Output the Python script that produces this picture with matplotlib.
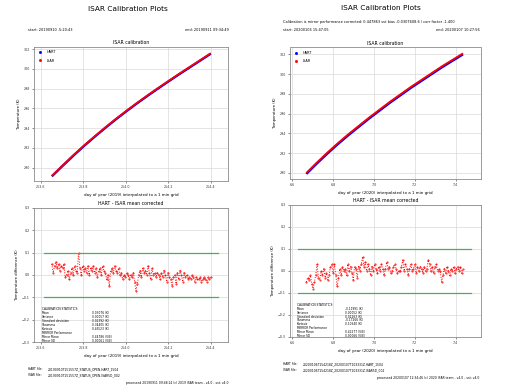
import numpy as np
import matplotlib
matplotlib.use('Agg')
import matplotlib.pyplot as plt

# ---- left run (2019) ----
l_start, l_end = 253.652, 254.400
l_isar = [289.15, 290.2, 291.22, 292.2, 293.13, 294.03, 294.9, 295.73,
          296.53, 297.3, 298.05, 298.78, 299.5, 300.2, 300.9, 301.6]
l_hart = [289.1, 290.15, 291.17, 292.15, 293.08, 293.98, 294.85, 295.68,
          296.48, 297.25, 298.0, 298.73, 299.45, 300.15, 300.85, 301.55]
l_diff = [0.05, 0.01, 0.04, 0.06, 0.03, 0.05, 0.02, 0.04, 0.03, 0.05,
          -0.01, 0.0, 0.02, -0.02, 0.01, 0.03, 0.00, 0.04, 0.02, 0.01,
          0.10, 0.03, 0.0, 0.04, 0.02, 0.03, 0.01, 0.04, 0.0, 0.03,
          0.02, 0.04, 0.01, 0.03, -0.01, 0.02, 0.03, 0.0, 0.04, 0.02,
          0.01, -0.02, 0.0, -0.05, 0.02, 0.03, 0.01, 0.04, 0.02, 0.01,
          0.03, 0.00, 0.01, -0.02, 0.0, -0.01, 0.01, 0.0, -0.02, 0.0,
          -0.01, 0.01, -0.03, -0.07, -0.04, 0.0, 0.02, -0.01, 0.03, 0.01,
          0.02, 0.0, 0.04, 0.01, -0.02, 0.03, 0.0, 0.01, -0.01, 0.01,
          0.0, -0.02, 0.01, -0.01, 0.02, 0.0, -0.03, 0.01, -0.01, -0.02,
          -0.05, -0.01, 0.0, -0.04, 0.01, -0.02, 0.02, 0.0, -0.03, 0.01,
          -0.01, 0.0, -0.02, -0.01, -0.02, 0.0, -0.01, -0.03, -0.01, -0.02,
          -0.02, -0.01, -0.03, -0.02, -0.01, -0.02, -0.03, -0.01, -0.02, -0.01]
l_band = [253.615, 254.435]
l_xlim = [253.568, 254.481]
l_xticks = [253.6, 253.8, 254.0, 254.2, 254.4]
l_yticks = [290, 292, 294, 296, 298, 300, 302]
l_stats = ['0.03076 (K)', '0.00057 (K)', '0.02392 (K)', '0.34405 (K)',
           '0.45523 (K)', '', '0.44786 (V/E)', '0.00061 (V/E)']

# ---- right run (2020) ----
r_start, r_end = 6.669, 7.436
r_isar = [290.0, 291.05, 292.05, 293.0, 293.9, 294.75, 295.6, 296.4,
          297.2, 297.95, 298.7, 299.4, 300.1, 300.8, 301.45, 302.1]
r_hart = [289.9, 290.95, 291.95, 292.9, 293.8, 294.65, 295.5, 296.3,
          297.1, 297.85, 298.6, 299.3, 300.0, 300.7, 301.35, 302.0]
r_diff = [-0.05, -0.03, -0.04, -0.02, -0.06, -0.08, -0.05, -0.02, 0.03, -0.03,
          -0.04, 0.0, -0.02, 0.01, -0.03, -0.01, -0.04, -0.02, 0.02, 0.03,
          -0.01, 0.03, -0.02, -0.07, -0.03, 0.01, -0.02, 0.02, 0.0, 0.01,
          -0.02, 0.03, 0.0, 0.02, -0.01, -0.04, 0.02, 0.01, -0.03, 0.02,
          0.0, 0.03, 0.065, 0.02, 0.04, 0.0, 0.03, 0.01, -0.02, 0.02,
          0.0, 0.03, 0.01, -0.01, 0.02, 0.0, 0.03, 0.01, -0.02, 0.01,
          0.04, 0.01, 0.02, -0.01, 0.0, 0.02, 0.03, 0.01, -0.01, 0.0,
          0.0, 0.02, 0.05, 0.0, 0.03, 0.01, -0.02, 0.01, 0.03, 0.0,
          0.01, 0.03, -0.01, 0.02, 0.0, 0.02, 0.01, -0.01, 0.02, 0.0,
          0.01, 0.05, 0.03, 0.0, 0.02, -0.01, 0.02, 0.03, 0.0, 0.01,
          0.0, -0.05, -0.02, 0.01, -0.01, 0.02, 0.0, -0.02, 0.01, 0.0,
          0.02, -0.01, 0.01, 0.02, 0.0, 0.02, -0.01, 0.01]
r_band = [6.628, 7.473]
r_xlim = [6.589, 7.524]
r_xticks = [6.6, 6.8, 7.0, 7.2, 7.4]
r_yticks = [290, 292, 294, 296, 298, 300, 302]
r_stats = ['-0.11991 (K)', '0.00052 (K)', '0.02263 (K)', '-0.17266 (K)',
           '0.10640 (K)', '', '0.42277 (V/E)', '0.00066 (V/E)']

stat_names = ['CALIBRATION STATISTICS:', 'Mean', 'Variance', 'Standard deviation',
              'Skewness', 'Kurtosis', 'MIRROR Performance', 'Mirror Mean', 'Mirror SD']
diff_yticks = [-0.3, -0.2, -0.1, 0.0, 0.1, 0.2, 0.3]

W, H = 518, 391
fig = plt.figure(figsize=(W / 100, H / 100), dpi=100)
fig.patch.set_facecolor('white')


def px(x, y):
    return x / W, 1 - y / H


def style(ax, fs=2.3):
    ax.grid(True, color='0.85', lw=0.5)
    ax.set_axisbelow(True)
    for s in ax.spines.values():
        s.set_color('0.55')
        s.set_linewidth(0.6)
    ax.tick_params(labelsize=fs, length=1.5, width=0.4, pad=1.5,
                   colors='0.2')


def panel(rect_top, rect_bot, start, end, isar, hart, diff, band,
          xlim, xticks, yticks, year, stats, stat_xy, val_x, step, ylim_top):
    ax = fig.add_axes(rect_top)
    xs = np.linspace(start, end, len(isar))
    ax.plot(xs, hart, color='blue', lw=1.7, solid_capstyle='butt')
    ax.plot(xs, isar, color='red', lw=1.3, solid_capstyle='butt')
    ax.plot([], [], 'bs', ms=1.0, label='HART')
    ax.plot([], [], 'rs', ms=1.0, label='ISAR')
    ax.legend(loc='upper left', frameon=False, fontsize=2.5,
              handlelength=1.2, handletextpad=1.5, borderaxespad=0.6,
              labelspacing=1.2)
    ax.set_xlim(xlim)
    ax.set_ylim(ylim_top)
    ax.set_xticks(xticks)
    ax.set_yticks(yticks)
    ax.set_title('ISAR calibration', fontsize=3.3, pad=2)
    ax.set_xlabel(f'day of year ({year}) interpolated to a 1 min grid',
                  fontsize=2.9, labelpad=2.5)
    ax.set_ylabel('Temperature (K)', fontsize=2.7, labelpad=2)
    style(ax)

    bx = fig.add_axes(rect_bot)
    xd = np.linspace(start, end, len(diff))
    bx.plot(xd, diff, color='red', ls=':', lw=0.7, marker='.', ms=0.9)
    bx.plot(band, [0.1, 0.1], color='#4caf50', lw=0.9)
    bx.plot(band, [-0.1, -0.1], color='#4caf50', lw=0.9)
    bx.set_xlim(xlim)
    bx.set_ylim(-0.3, 0.3)
    bx.set_xticks(xticks)
    bx.set_yticks(diff_yticks)
    bx.set_title('HART - ISAR mean corrected', fontsize=3.3, pad=2)
    bx.set_xlabel(f'day of year ({year}) interpolated to a 1 min grid',
                  fontsize=2.9, labelpad=2.5)
    bx.set_ylabel('Temperature difference (K)', fontsize=2.7, labelpad=2)
    style(bx)

    sx, sy = stat_xy
    for i, name in enumerate(stat_names):
        fig.text(*px(sx, sy + i * step), name, fontsize=2.1, va='center')
    for i, val in enumerate(stats):
        fig.text(*px(val_x, sy + (i + 1) * step), val, fontsize=2.1,
                 va='center')


# left figure
panel([34 / W, 1 - 181 / H, 194 / W, 134 / H],
      [34 / W, 1 - 342 / H, 194 / W, 134 / H],
      l_start, l_end, l_isar, l_hart, l_diff, l_band, l_xlim, l_xticks,
      l_yticks, 2019, l_stats, (42, 309.3), 91.5, 4.0, (288.63, 302.23))
fig.text(*px(128, 9), 'ISAR Calibration Plots', fontsize=5.3, ha='center',
         va='center')
fig.text(*px(28, 30), 'start: 20190910 .5:20:43', fontsize=2.5, va='center')
fig.text(*px(228.5, 30), 'end: 20190911 09:34:49', fontsize=2.5, ha='right',
         va='center')
fig.text(*px(27.5, 369.5), 'HART file:', fontsize=2.2, va='center')
fig.text(*px(48, 369.5), '20190910T151557Z_STATUS_OPEN.HART_1504',
         fontsize=2.2, va='center')
fig.text(*px(27.5, 375.5), 'ISAR file:', fontsize=2.2, va='center')
fig.text(*px(48, 375.5), '20190910T151557Z_STATUS_OPEN.ISAR5D_002',
         fontsize=2.2, va='center')
fig.text(*px(228.5, 383), 'processed 20190911 09:48:14 (c) 2019 ISAR team - v4.0 - sst: v4.0',
         fontsize=2.2, ha='right', va='center')

# right figure
panel([290 / W, 1 - 179 / H, 191 / W, 131.5 / H],
      [290 / W, 1 - 337 / H, 191 / W, 132 / H],
      r_start, r_end, r_isar, r_hart, r_diff, r_band, r_xlim, r_xticks,
      r_yticks, 2020, r_stats, (297, 305), 345, 3.85, (289.39, 302.69))
fig.text(*px(381, 8), 'ISAR Calibration Plots', fontsize=5.3, ha='center',
         va='center')
fig.text(*px(283, 22),
         'Calibration is mirror performance corrected: 0.447863 sst bias -0.0307608.6 / corr factor -1.400',
         fontsize=2.5, va='center')
fig.text(*px(283, 30), 'start: 20200106 15:47:05', fontsize=2.5, va='center')
fig.text(*px(480, 30), 'end: 20200107 10:27:56', fontsize=2.5, ha='right',
         va='center')
fig.text(*px(283, 364), 'HART file:', fontsize=2.2, va='center')
fig.text(*px(303, 364), '20200106T154218Z_20200107T103331Z.HART_1504',
         fontsize=2.2, va='center')
fig.text(*px(283, 370), 'ISAR file:', fontsize=2.2, va='center')
fig.text(*px(303, 370), '20200106T154218Z_20200107T103331Z.ISAR5D_002',
         fontsize=2.2, va='center')
fig.text(*px(479.5, 378), 'processed 20200107 12:34:46 (c) 2020 ISAR team - v4.0 - sst: v4.0',
         fontsize=2.2, ha='right', va='center')

fig.savefig('out.png', dpi=100)
